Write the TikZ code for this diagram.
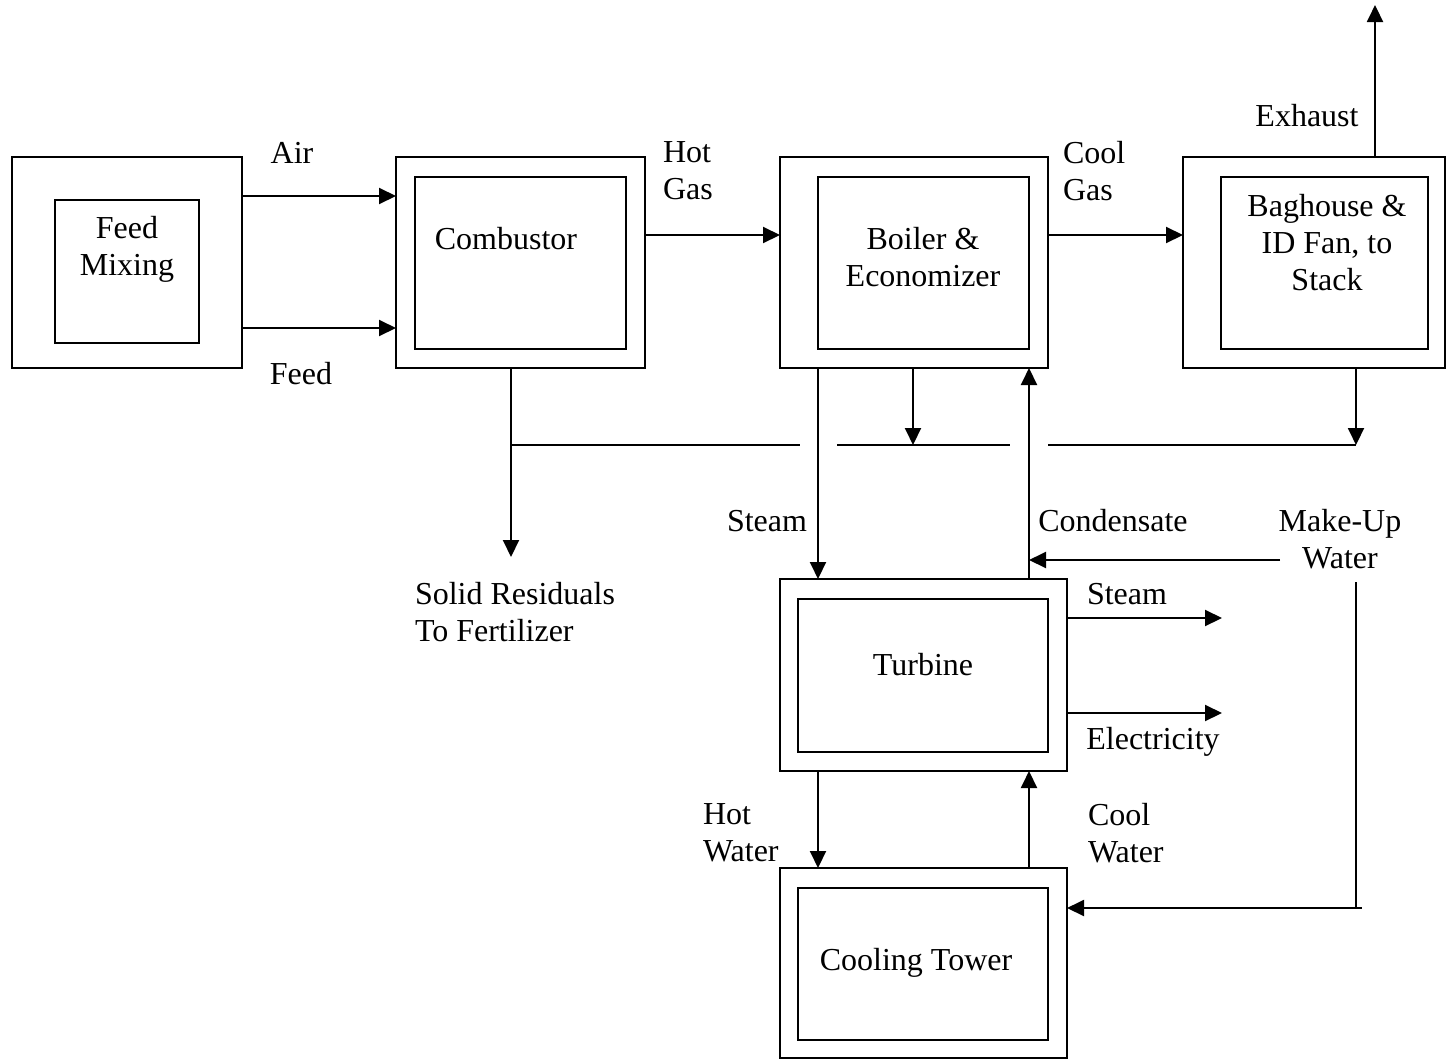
\documentclass[tikz,border=0pt]{standalone}
\usepackage{fontspec}
\setmainfont{Liberation Serif}
\usetikzlibrary{arrows.meta}
\begin{document}
\begin{tikzpicture}[x=1pt,y=-1pt,
  every node/.style={font=\fontsize{32}{37}\selectfont, inner sep=0pt, outer sep=0pt},
  box/.style={draw, line width=2pt, rectangle},
  lbl/.style={align=center},
  lbll/.style={align=left, anchor=west},
  ln/.style={line width=2pt},
  arr/.style={line width=2pt, -{Triangle[length=17pt,width=16pt]}}]
\useasboundingbox (0,0) rectangle (1447,1060);
% boxes
\node[box, minimum width=230pt, minimum height=211pt] (fmO) at (127,262.5) {};
\node[box, minimum width=144pt, minimum height=143pt] (fmI) at (127,271.5) {};
\node[box, minimum width=249pt, minimum height=211pt] (coO) at (520.5,262.5) {};
\node[box, minimum width=211pt, minimum height=172pt] (coI) at (520.5,263) {};
\node[box, minimum width=268pt, minimum height=211pt] (boO) at (914,262.5) {};
\node[box, minimum width=211pt, minimum height=172pt] (boI) at (923.5,263) {};
\node[box, minimum width=262pt, minimum height=211pt] (bhO) at (1314,262.5) {};
\node[box, minimum width=207pt, minimum height=172pt] (bhI) at (1324.5,263) {};
\node[box, minimum width=287pt, minimum height=192pt] (tuO) at (923.5,675) {};
\node[box, minimum width=250pt, minimum height=153pt] (tuI) at (923,675.5) {};
\node[box, minimum width=287pt, minimum height=190pt] (ctO) at (923.5,963) {};
\node[box, minimum width=250pt, minimum height=152pt] (ctI) at (923,964) {};
% box texts
\node[lbl] (tfm) at (127,249) {Feed\\Mixing};
\node[lbl] (tco) at (506,239) {Combustor};
\node[lbl] (tbo) at (923,257) {Boiler \&\\Economizer};
\node[lbl] (tbh) at (1327,243) {Baghouse \&\\ID Fan, to\\Stack};
\node[lbl] (ttu) at (923,665) {Turbine};
\node[lbl] (tct) at (916,963) {Cooling Tower};
% labels
\node[lbl] (lair) at (292,153) {Air};
\node[lbl] (lfeed) at (301,374) {Feed};
\node[lbll] (lhot) at (663,171) {Hot\\Gas};
\node[lbll] (lcool) at (1063,171) {Cool\\Gas};
\node[lbl] (lexh) at (1307,116) {Exhaust};
\node[lbl] (lst1) at (767,521) {Steam};
\node[lbl] (lcond) at (1113,521) {Condensate};
\node[lbl] (lmu) at (1340,539) {Make-Up\\Water};
\node[lbll] (lsolid) at (415,612) {Solid Residuals\\To Fertilizer};
\node[lbl] (lst2) at (1127,594) {Steam};
\node[lbl] (lel) at (1153,742) {Electricity};
\node[lbll] (lhw) at (703,833) {Hot\\Water};
\node[lbll] (lcw) at (1088,833) {Cool\\Water};
% coordinates
\coordinate (yair) at (0,196);
\coordinate (yfeed) at (0,328);
\coordinate (ygas) at (0,235);
\coordinate (ybus) at (0,445);
\coordinate (solidEnd) at (511,557);
\coordinate (exhEnd) at (1375,5);
\coordinate (muStart) at (1280,560);
\coordinate (muTop) at (1356,582);
\coordinate (muCorner) at (1356,908);
\coordinate (muRight) at (1362,908);
\coordinate (stEnd) at (1222,618);
\coordinate (elEnd) at (1222,713);
% connectors
\draw[arr] (fmO.east |- yair) -- (coO.west |- yair);
\draw[arr] (fmO.east |- yfeed) -- (coO.west |- yfeed);
\draw[arr] (coO.east |- ygas) -- (boO.west |- ygas);
\draw[arr] (boO.east |- ygas) -- (bhO.west |- ygas);
\draw[arr] (bhO.north -| exhEnd) -- (exhEnd);
\draw[arr] (coO.south -| solidEnd) -- (solidEnd);
\draw[ln] (solidEnd |- ybus) -- (800,445);
\draw[ln] (837,445) -- (1010,445);
\draw[ln] (1048,445) -- (1356,445);
\draw[arr] (boO.south -| 913,0) -- (913,445);
\draw[arr] (bhO.south -| 1356,0) -- (1356,445);
\draw[arr] (boO.south -| boI.west) -- (tuO.north -| boI.west);
\draw[arr] (tuO.north -| boI.east) -- (boO.south -| boI.east);
\draw[arr] (muStart) -- (muStart -| boI.east);
\draw[ln] (muTop) -- (muCorner) -- (muRight);
\draw[arr] (muCorner) -- (ctO.east |- muCorner);
\draw[arr] (tuO.east |- stEnd) -- (stEnd);
\draw[arr] (tuO.east |- elEnd) -- (elEnd);
\draw[arr] (tuO.south -| boI.west) -- (ctO.north -| boI.west);
\draw[arr] (ctO.north -| boI.east) -- (tuO.south -| boI.east);
\end{tikzpicture}
\end{document}
